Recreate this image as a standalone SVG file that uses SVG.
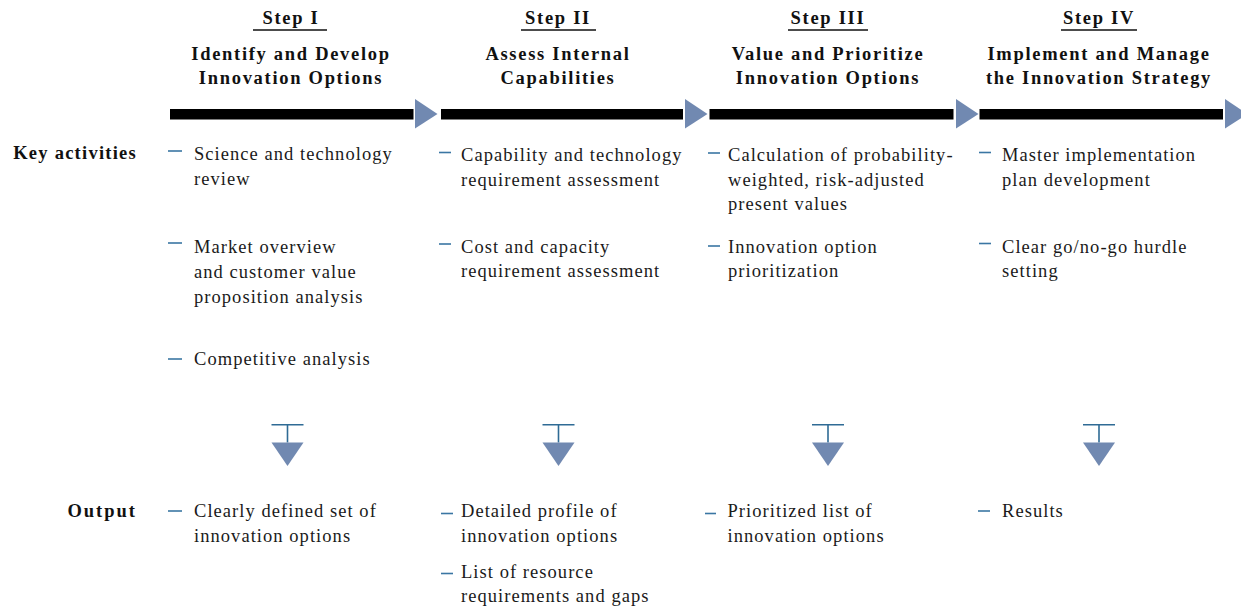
<svg xmlns="http://www.w3.org/2000/svg" width="1241" height="612" viewBox="0 0 1241 612">
<style>
  .hd{font-family:"Liberation Serif",serif;font-weight:bold;font-size:18.5px;fill:#111;text-anchor:middle;letter-spacing:1.7px}
  .lbl{font-family:"Liberation Serif",serif;font-weight:bold;font-size:18.5px;fill:#111;text-anchor:end}
  .tx{font-family:"Liberation Serif",serif;font-size:18.5px;fill:#1a1a1a;letter-spacing:1.05px}
  .ul{stroke:#111;stroke-width:1.5}
  .dash{stroke:#3a76a3;stroke-width:1.6}
  .bar{fill:#000}
  .tri{fill:#7189b1}
  .stem{stroke:#2f6b95;stroke-width:1.6;fill:none}
</style>
<rect width="1241" height="612" fill="#fff"/>

<g id="labels">
  <text class="lbl" x="137" y="158.5" style="letter-spacing:1.25px">Key activities</text>
  <text class="lbl" x="137" y="517" style="letter-spacing:2px">Output</text>
</g>

<g id="step1">
  <text class="hd" x="291" y="24">Step I</text>
  <line class="ul" x1="253" y1="30" x2="327" y2="30"/>
  <text class="hd" x="291" y="60">Identify and Develop</text>
  <text class="hd" x="291" y="84">Innovation Options</text>
</g>
<g id="step2">
  <text class="hd" x="558" y="24">Step II</text>
  <line class="ul" x1="521" y1="30" x2="596" y2="30"/>
  <text class="hd" x="558" y="60">Assess Internal</text>
  <text class="hd" x="558" y="84">Capabilities</text>
</g>
<g id="step3">
  <text class="hd" x="828" y="24">Step III</text>
  <line class="ul" x1="788" y1="30" x2="868" y2="30"/>
  <text class="hd" x="828" y="60">Value and Prioritize</text>
  <text class="hd" x="828" y="84">Innovation Options</text>
</g>
<g id="step4">
  <text class="hd" x="1099" y="24">Step IV</text>
  <line class="ul" x1="1061" y1="30" x2="1137" y2="30"/>
  <text class="hd" x="1099" y="60">Implement and Manage</text>
  <text class="hd" x="1099" y="84">the Innovation Strategy</text>
</g>

<g id="connectors">
  <rect class="bar" x="170" y="109" width="243.5" height="10.5"/>
  <polygon class="tri" points="415,99 437.5,114 415,128.5"/>
  <rect class="bar" x="441" y="109" width="242" height="10.5"/>
  <polygon class="tri" points="685,99 707.5,114 685,128.5"/>
  <rect class="bar" x="709.5" y="109" width="244" height="10.5"/>
  <polygon class="tri" points="956,99 978.5,114 956,128.5"/>
  <rect class="bar" x="979.5" y="109" width="243.5" height="10.5"/>
  <polygon class="tri" points="1225,99 1247.5,114 1225,128.5"/>

  <path class="stem" d="M271.5,424.7 H303.5 M287.5,424.7 V442.5"/>
  <polygon class="tri" points="271.5,442.5 303.5,442.5 287.5,466"/>
  <path class="stem" d="M542.5,424.7 H574.5 M558.5,424.7 V442.5"/>
  <polygon class="tri" points="542.5,442.5 574.5,442.5 558.5,466"/>
  <path class="stem" d="M812,424.7 H844 M828,424.7 V442.5"/>
  <polygon class="tri" points="812,442.5 844,442.5 828,466"/>
  <path class="stem" d="M1083,424.7 H1115 M1099,424.7 V442.5"/>
  <polygon class="tri" points="1083,442.5 1115,442.5 1099,466"/>
</g>

<g id="activities1">
  <line class="dash" x1="168" y1="151" x2="182" y2="151"/>
  <text class="tx" x="194" y="159.5">Science and technology</text>
  <text class="tx" x="194" y="184.5">review</text>
  <line class="dash" x1="168" y1="243" x2="182" y2="243"/>
  <text class="tx" x="194" y="253">Market overview</text>
  <text class="tx" x="194" y="278">and customer value</text>
  <text class="tx" x="194" y="303">proposition analysis</text>
  <line class="dash" x1="168" y1="359" x2="182" y2="359"/>
  <text class="tx" x="194" y="365">Competitive analysis</text>
</g>
<g id="activities2">
  <line class="dash" x1="439" y1="152.5" x2="451" y2="152.5"/>
  <text class="tx" x="461" y="160.5">Capability and technology</text>
  <text class="tx" x="461" y="185.5">requirement assessment</text>
  <line class="dash" x1="439" y1="244" x2="451" y2="244"/>
  <text class="tx" x="461" y="252.5">Cost and capacity</text>
  <text class="tx" x="461" y="277">requirement assessment</text>
</g>
<g id="activities3">
  <line class="dash" x1="708" y1="153" x2="720" y2="153"/>
  <text class="tx" x="728" y="160.5">Calculation of probability-</text>
  <text class="tx" x="728" y="185.5">weighted, risk-adjusted</text>
  <text class="tx" x="728" y="210">present values</text>
  <line class="dash" x1="708" y1="246" x2="720" y2="246"/>
  <text class="tx" x="728" y="253">Innovation option</text>
  <text class="tx" x="728" y="277">prioritization</text>
</g>
<g id="activities4">
  <line class="dash" x1="979" y1="152.5" x2="991" y2="152.5"/>
  <text class="tx" x="1002" y="160.5">Master implementation</text>
  <text class="tx" x="1002" y="185.5">plan development</text>
  <line class="dash" x1="979" y1="243.5" x2="991" y2="243.5"/>
  <text class="tx" x="1002" y="252.5">Clear go/no-go hurdle</text>
  <text class="tx" x="1002" y="277">setting</text>
</g>

<g id="output1">
  <line class="dash" x1="168" y1="511" x2="182" y2="511"/>
  <text class="tx" x="194" y="517">Clearly defined set of</text>
  <text class="tx" x="194" y="541.5">innovation options</text>
</g>
<g id="output2">
  <line class="dash" x1="441" y1="513.5" x2="453" y2="513.5"/>
  <text class="tx" x="461" y="517">Detailed profile of</text>
  <text class="tx" x="461" y="541.5">innovation options</text>
  <line class="dash" x1="441" y1="573.5" x2="453" y2="573.5"/>
  <text class="tx" x="461" y="578">List of resource</text>
  <text class="tx" x="461" y="602">requirements and gaps</text>
</g>
<g id="output3">
  <line class="dash" x1="705" y1="513.5" x2="716" y2="513.5"/>
  <text class="tx" x="727.5" y="517">Prioritized list of</text>
  <text class="tx" x="727.5" y="541.5">innovation options</text>
</g>
<g id="output4">
  <line class="dash" x1="978" y1="511" x2="990" y2="511"/>
  <text class="tx" x="1002" y="517">Results</text>
</g>
</svg>
